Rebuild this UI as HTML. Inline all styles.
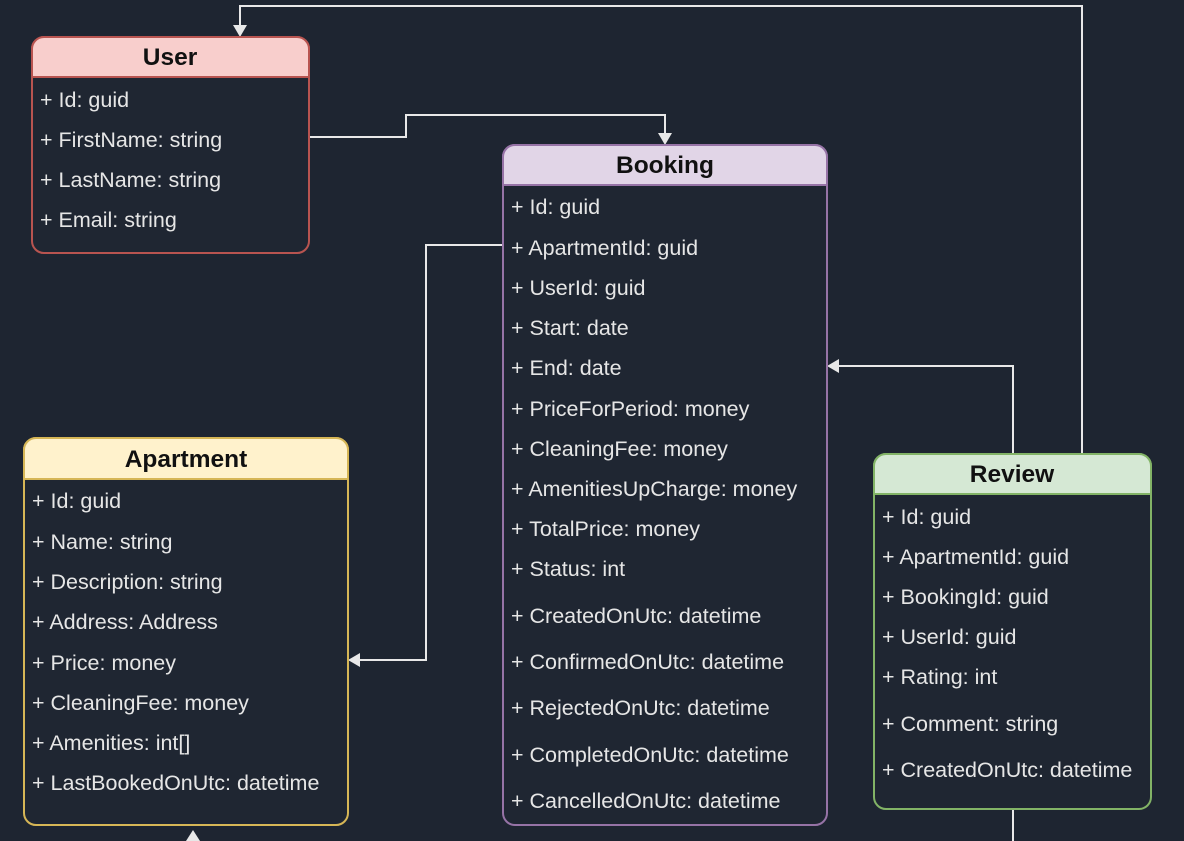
<!DOCTYPE html>
<html><head><meta charset="utf-8"><style>
html,body{margin:0;padding:0;background:#1e2531;}
svg{display:block}
text{font-family:"Liberation Sans",sans-serif;}
.r{fill:#e6e6e6;font-size:21.5px}
.h{fill:#111;font-size:24.5px;font-weight:bold}
.l{stroke:#e8e8e8;stroke-width:2;fill:none}
.a{fill:#e8e8e8}
</style></head><body>
<svg width="1184" height="841" viewBox="0 0 1184 841" xmlns="http://www.w3.org/2000/svg">
<rect width="1184" height="841" fill="#1e2531"/>
<path class="l" d="M1082 454 V6 H240 V27"/>
<polygon class="a" points="233,25 247,25 240,37"/>
<path class="l" d="M310 137 H406 V115 H665 V135"/>
<polygon class="a" points="658,133 672,133 665,145"/>
<path class="l" d="M503 245 H426 V660 H358"/>
<polygon class="a" points="360,653 360,667 348,660"/>
<path class="l" d="M1013 454 V366 H837"/>
<polygon class="a" points="839,359 839,373 827,366"/>
<path class="l" d="M1013 810 V841"/>
<polygon class="a" points="186,841 200,841 193,830"/>

<rect x="32" y="37" width="277" height="216" rx="12" fill="#1f2632" stroke="#b85450" stroke-width="2"/>
<path d="M32 77 V49 a12 12 0 0 1 12 -12 H297 a12 12 0 0 1 12 12 V77 Z" fill="#f8cecc" stroke="#b85450" stroke-width="2"/>
<text class="h" x="170" y="65" text-anchor="middle">User</text>
<text class="r" x="40" y="107">+ Id: guid</text>
<text class="r" x="40" y="147">+ FirstName: string</text>
<text class="r" x="40" y="187">+ LastName: string</text>
<text class="r" x="40" y="227">+ Email: string</text>

<rect x="503" y="145" width="324" height="680" rx="12" fill="#1f2632" stroke="#9673a6" stroke-width="2"/>
<path d="M503 185 V157 a12 12 0 0 1 12 -12 H815 a12 12 0 0 1 12 12 V185 Z" fill="#e1d5e7" stroke="#9673a6" stroke-width="2"/>
<text class="h" x="665" y="173" text-anchor="middle">Booking</text>
<text class="r" x="511" y="214">+ Id: guid</text>
<text class="r" x="511" y="255">+ ApartmentId: guid</text>
<text class="r" x="511" y="295">+ UserId: guid</text>
<text class="r" x="511" y="335">+ Start: date</text>
<text class="r" x="511" y="375">+ End: date</text>
<text class="r" x="511" y="416">+ PriceForPeriod: money</text>
<text class="r" x="511" y="456">+ CleaningFee: money</text>
<text class="r" x="511" y="496">+ AmenitiesUpCharge: money</text>
<text class="r" x="511" y="536">+ TotalPrice: money</text>
<text class="r" x="511" y="576">+ Status: int</text>
<text class="r" x="511" y="623">+ CreatedOnUtc: datetime</text>
<text class="r" x="511" y="669">+ ConfirmedOnUtc: datetime</text>
<text class="r" x="511" y="715">+ RejectedOnUtc: datetime</text>
<text class="r" x="511" y="762">+ CompletedOnUtc: datetime</text>
<text class="r" x="511" y="808">+ CancelledOnUtc: datetime</text>

<rect x="24" y="438" width="324" height="387" rx="12" fill="#1f2632" stroke="#d6b656" stroke-width="2"/>
<path d="M24 479 V450 a12 12 0 0 1 12 -12 H336 a12 12 0 0 1 12 12 V479 Z" fill="#fff2cc" stroke="#d6b656" stroke-width="2"/>
<text class="h" x="186" y="467" text-anchor="middle">Apartment</text>
<text class="r" x="32" y="508">+ Id: guid</text>
<text class="r" x="32" y="549">+ Name: string</text>
<text class="r" x="32" y="589">+ Description: string</text>
<text class="r" x="32" y="629">+ Address: Address</text>
<text class="r" x="32" y="670">+ Price: money</text>
<text class="r" x="32" y="710">+ CleaningFee: money</text>
<text class="r" x="32" y="750">+ Amenities: int[]</text>
<text class="r" x="32" y="790">+ LastBookedOnUtc: datetime</text>

<rect x="874" y="454" width="277" height="355" rx="12" fill="#1f2632" stroke="#82b366" stroke-width="2"/>
<path d="M874 494 V466 a12 12 0 0 1 12 -12 H1139 a12 12 0 0 1 12 12 V494 Z" fill="#d5e8d4" stroke="#82b366" stroke-width="2"/>
<text class="h" x="1012" y="482" text-anchor="middle">Review</text>
<text class="r" x="882" y="524">+ Id: guid</text>
<text class="r" x="882" y="564">+ ApartmentId: guid</text>
<text class="r" x="882" y="604">+ BookingId: guid</text>
<text class="r" x="882" y="644">+ UserId: guid</text>
<text class="r" x="882" y="684">+ Rating: int</text>
<text class="r" x="882" y="731">+ Comment: string</text>
<text class="r" x="882" y="777">+ CreatedOnUtc: datetime</text>
</svg>
</body></html>
